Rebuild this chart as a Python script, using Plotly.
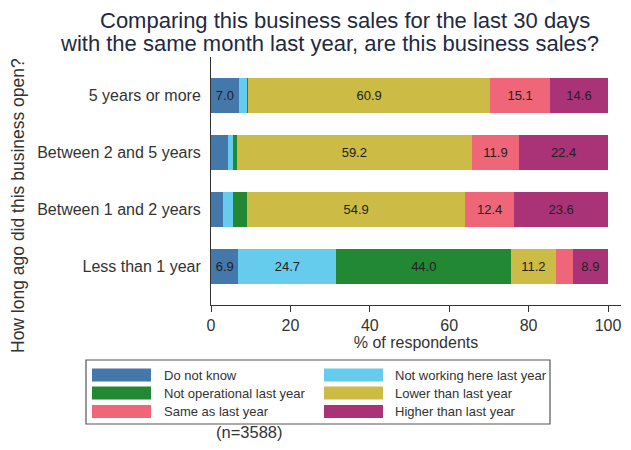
import plotly.graph_objects as go

# ---- data ----
categories = ["5 years or more", "Between 2 and 5 years", "Between 1 and 2 years", "Less than 1 year"]
series_names = ["Do not know", "Not working here last year", "Not operational last year",
                "Lower than last year", "Same as last year", "Higher than last year"]
do_not_know = [7.0, 4.3, 3.1, 6.9]
not_working = [2.1, 1.2, 2.5, 24.7]
not_operational = [0.3, 1.0, 3.5, 44.0]
lower = [60.9, 59.2, 54.9, 11.2]
same = [15.1, 11.9, 12.4, 4.3]
higher = [14.6, 22.4, 23.6, 8.9]
series_values = [do_not_know, not_working, not_operational, lower, same, higher]
x_ticks = [0, 20, 40, 60, 80, 100]
colors = ["#4477AA", "#66CCEE", "#228833", "#CCBB44", "#EE6677", "#AA3377"]

FONT = "Arial, Liberation Sans, sans-serif"
OFF = 8  # page body margin in the browser
W, H = 631 - 2 * OFF, 450 - 2 * OFF
# plot area in window pixels: x 211..621, y 57..305
L, R, T = 211 - OFF, 2, 57 - OFF
B = H - (305 - OFF)
PW, PH = W - L - R, H - T - B
X_MAX = 100 * PW / (608 - 211)  # value 100 lands at window x = 608


def px(x):
    return (x - OFF - L) / PW


def py(y):
    return (H - B - (y - OFF)) / PH


fig = go.Figure()
for name, vals, col in zip(series_names, series_values, colors):
    fig.add_trace(go.Bar(
        y=categories, x=vals, name=name, orientation="h",
        marker=dict(color=col, line=dict(width=0)),
        text=[f"{v:.1f}" if v >= 5 else "" for v in vals],
        textposition="inside", insidetextanchor="middle", textangle=0,
        constraintext="none",
        textfont=dict(family=FONT, size=13, color="#222222"),
        showlegend=False,
    ))

shapes = []
annotations = []

# custom legend box
shapes.append(dict(type="rect", xref="paper", yref="paper",
                   x0=px(86), x1=px(550), y0=py(424), y1=py(360),
                   line=dict(color="#555555", width=1.2), fillcolor="white"))
row_y = [375, 393, 411.5]
col_sw = [92, 324]
col_tx = [162, 393]
for i, (name, col) in enumerate(zip(series_names, colors)):
    r, c = divmod(i, 2)
    yc = row_y[r]
    shapes.append(dict(type="rect", xref="paper", yref="paper",
                       x0=px(col_sw[c]), x1=px(col_sw[c] + 59),
                       y0=py(yc + 6.5), y1=py(yc - 6.5),
                       line=dict(width=0), fillcolor=col))
    annotations.append(dict(xref="paper", yref="paper", x=px(col_tx[c]), y=py(yc),
                            xanchor="left", yanchor="middle", showarrow=False,
                            text=name, font=dict(family=FONT, size=13, color="#333333")))

# title (two lines)
annotations.append(dict(xref="paper", yref="paper", x=px(345), y=py(20),
                        xanchor="center", yanchor="middle", showarrow=False,
                        text="Comparing this business sales for the last 30 days",
                        font=dict(family=FONT, size=22, color="#222a3f")))
annotations.append(dict(xref="paper", yref="paper", x=px(329), y=py(43),
                        xanchor="center", yanchor="middle", showarrow=False,
                        text="with the same month last year, are this business sales?",
                        font=dict(family=FONT, size=22, color="#222a3f")))
# y axis title
annotations.append(dict(xref="paper", yref="paper", x=px(18), y=py(206),
                        xanchor="center", yanchor="middle", showarrow=False, textangle=-90,
                        text="How long ago did this business open?",
                        font=dict(family=FONT, size=17.5, color="#333333")))
# sample size note
annotations.append(dict(xref="paper", yref="paper", x=px(249), y=py(432),
                        xanchor="center", yanchor="middle", showarrow=False,
                        text="(n=3588)",
                        font=dict(family=FONT, size=16.5, color="#333333")))

fig.update_layout(
    width=W, height=H,
    margin=dict(l=L, r=R, t=T, b=B, pad=0),
    barmode="stack", bargap=0.386,
    paper_bgcolor="white", plot_bgcolor="white",
    font=dict(family=FONT, size=16, color="#333333"),
    uniformtext=dict(minsize=13, mode="show"),
    shapes=shapes, annotations=annotations,
    xaxis=dict(range=[0, X_MAX], tickvals=x_ticks, ticks="outside", ticklen=6,
               tickcolor="#333333", showline=True, linecolor="#333333", linewidth=1,
               showgrid=False, zeroline=False, ticklabeloverflow="allow",
               tickfont=dict(family=FONT, size=16, color="#333333"),
               title=dict(text="% of respondents", standoff=3,
                          font=dict(family=FONT, size=16, color="#333333"))),
    yaxis=dict(categoryorder="array", categoryarray=categories[::-1],
               range=[-0.667, 3.667], showline=True, linecolor="#333333", linewidth=1,
               ticks="", showgrid=False, zeroline=False, ticklabelstandoff=6,
               tickfont=dict(family=FONT, size=16, color="#333333")),
)

fig.write_html("out.html")
